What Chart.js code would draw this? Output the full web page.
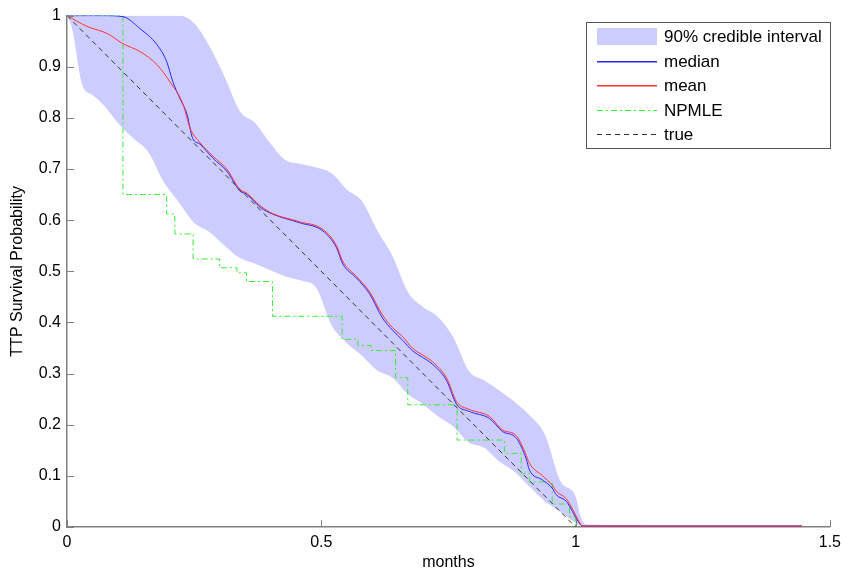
<!DOCTYPE html>
<html>
<head>
<meta charset="utf-8">
<script src="https://cdn.jsdelivr.net/npm/chart.js@4/dist/chart.umd.min.js"></script>
<style>
  html, body { margin: 0; padding: 0; background: #fff; }
  #wrap { width: 847px; height: 576px; }
</style>
</head>
<body>
<div id="wrap"><canvas id="survChart" width="847" height="576"></canvas></div>
<script>
// 90% credible band (upper / lower on a shared month grid)
const bandX = [0, 0.01, 0.03, 0.05, 0.07, 0.1, 0.13, 0.16, 0.19, 0.22, 0.25, 0.28, 0.31, 0.34, 0.37, 0.4, 0.43, 0.46, 0.49, 0.52, 0.55, 0.58, 0.61, 0.64, 0.67, 0.7, 0.73, 0.76, 0.79, 0.82, 0.85, 0.88, 0.91, 0.94, 0.97, 1.0, 1.01, 1.02, 1.13];
const bandUpper = [1, 1, 1, 1, 1, 1, 1, 1, 1, 1, 0.985, 0.94, 0.88, 0.813, 0.79, 0.75, 0.717, 0.71, 0.703, 0.692, 0.66, 0.637, 0.58, 0.53, 0.46, 0.43, 0.41, 0.37, 0.305, 0.287, 0.267, 0.245, 0.218, 0.18, 0.09, 0.06, 0.02, 0.005, 0.004];
const bandLower = [1, 0.975, 0.865, 0.845, 0.827, 0.79, 0.76, 0.733, 0.675, 0.635, 0.595, 0.577, 0.55, 0.526, 0.515, 0.502, 0.49, 0.482, 0.468, 0.395, 0.36, 0.335, 0.306, 0.292, 0.26, 0.24, 0.216, 0.196, 0.165, 0.155, 0.128, 0.108, 0.078, 0.05, 0.03, 0.008, 0.003, 0.002, 0.002];

const medianX = [0, 0.07, 0.11, 0.143, 0.177, 0.196, 0.208, 0.222, 0.236, 0.247, 0.261, 0.287, 0.314, 0.34, 0.353, 0.38, 0.404, 0.457, 0.503, 0.53, 0.542, 0.569, 0.595, 0.62, 0.64, 0.66, 0.679, 0.719, 0.746, 0.766, 0.791, 0.831, 0.856, 0.884, 0.903, 0.909, 0.935, 0.954, 0.962, 0.982, 0.994, 1.007, 1.013, 1.445];
const medianY = [1, 1, 0.998, 0.975, 0.943, 0.91, 0.871, 0.838, 0.807, 0.76, 0.749, 0.721, 0.696, 0.657, 0.651, 0.625, 0.612, 0.595, 0.579, 0.546, 0.515, 0.487, 0.456, 0.409, 0.385, 0.365, 0.345, 0.318, 0.287, 0.24, 0.226, 0.212, 0.187, 0.173, 0.133, 0.112, 0.092, 0.076, 0.063, 0.05, 0.03, 0.008, 0.002, 0.002];

const meanX = [0, 0.039, 0.079, 0.11, 0.143, 0.177, 0.202, 0.228, 0.242, 0.261, 0.287, 0.314, 0.34, 0.353, 0.38, 0.404, 0.457, 0.503, 0.53, 0.542, 0.569, 0.595, 0.62, 0.64, 0.66, 0.679, 0.719, 0.746, 0.766, 0.791, 0.831, 0.856, 0.884, 0.903, 0.909, 0.935, 0.954, 0.962, 0.982, 0.994, 1.007, 1.013, 1.445];
const meanY = [1, 0.979, 0.965, 0.945, 0.93, 0.904, 0.871, 0.827, 0.78, 0.752, 0.725, 0.7, 0.66, 0.653, 0.628, 0.613, 0.597, 0.582, 0.55, 0.52, 0.49, 0.46, 0.415, 0.39, 0.372, 0.35, 0.323, 0.292, 0.245, 0.23, 0.216, 0.19, 0.178, 0.14, 0.125, 0.1, 0.082, 0.07, 0.055, 0.035, 0.01, 0.002, 0.002];

// NPMLE step function: value drops to y at time x
const npmleX = [0, 0.11, 0.196, 0.212, 0.248, 0.3, 0.334, 0.353, 0.404, 0.541, 0.572, 0.598, 0.646, 0.67, 0.767, 0.86, 0.893, 0.909, 0.954, 0.988, 1.0];
const npmleY = [1, 0.65, 0.612, 0.573, 0.524, 0.507, 0.497, 0.48, 0.412, 0.367, 0.355, 0.345, 0.292, 0.239, 0.17, 0.144, 0.105, 0.088, 0.045, 0.02, 0];

const trueX = [0, 1];
const trueY = [1, 0];

const xTicks = [0, 0.5, 1, 1.5];
const yTicks = [0, 0.1, 0.2, 0.3, 0.4, 0.5, 0.6, 0.7, 0.8, 0.9, 1];

const pts = (xs, ys) => xs.map((x, i) => ({ x: x, y: ys[i] }));
const tickText = v => String(Math.round(v * 10) / 10);

const FONT = 'Liberation Sans, Arial, Helvetica, sans-serif';
const axisColor = '#808080';
const bandColor = 'rgb(204,204,255)';
const blue = 'rgb(40,40,255)';
const red = 'rgb(255,50,50)';
const green = 'rgb(50,240,50)';

const legendItems = [
  { label: '90% credible interval', kind: 'box', color: bandColor },
  { label: 'median', kind: 'solid', color: blue },
  { label: 'mean', kind: 'solid', color: red },
  { label: 'NPMLE', kind: 'dash', color: green, dash: [6, 3, 2, 3] },
  { label: 'true', kind: 'dash', color: '#333', dash: [5, 4] }
];

// inward tick marks like the original figure
const inwardTicks = {
  id: 'inwardTicks',
  afterDraw(chart) {
    const { ctx, chartArea, scales } = chart;
    ctx.save();
    ctx.strokeStyle = axisColor;
    ctx.lineWidth = 1;
    yTicks.forEach(v => {
      const py = Math.round(scales.y.getPixelForValue(v)) + 0.5;
      ctx.beginPath();
      ctx.moveTo(chartArea.left, py);
      ctx.lineTo(chartArea.left + 7, py);
      ctx.stroke();
    });
    xTicks.forEach(v => {
      const px = Math.round(scales.x.getPixelForValue(v)) + 0.5;
      ctx.beginPath();
      ctx.moveTo(px, chartArea.bottom);
      ctx.lineTo(px, chartArea.bottom - 7);
      ctx.stroke();
    });
    ctx.restore();
  }
};

const boxLegend = {
  id: 'boxLegend',
  afterDraw(chart) {
    const ctx = chart.ctx;
    const left = 586, top = 22, w = 244, h = 126;
    ctx.save();
    ctx.fillStyle = '#fff';
    ctx.fillRect(left, top, w, h);
    ctx.strokeStyle = '#555';
    ctx.lineWidth = 1;
    ctx.strokeRect(left + 0.5, top + 0.5, w, h);
    ctx.font = '17px ' + FONT;
    ctx.textBaseline = 'middle';
    legendItems.forEach((it, i) => {
      const cy = Math.round(top + 14 + i * 24.5);
      if (it.kind === 'box') {
        ctx.fillStyle = it.color;
        ctx.fillRect(597, cy - 8, 60, 17);
      } else if (it.kind === 'solid') {
        ctx.fillStyle = it.color;
        ctx.fillRect(597, cy, 60, 1.5);
      } else {
        ctx.strokeStyle = it.color;
        ctx.lineWidth = 1;
        ctx.setLineDash(it.dash);
        ctx.beginPath();
        ctx.moveTo(597, cy + 0.5);
        ctx.lineTo(657, cy + 0.5);
        ctx.stroke();
        ctx.setLineDash([]);
      }
      ctx.fillStyle = '#000';
      ctx.fillText(it.label, 664, cy + 1);
    });
    ctx.restore();
  }
};

const ctx = document.getElementById('survChart').getContext('2d');
new Chart(ctx, {
  type: 'line',
  data: {
    datasets: [
      {
        label: 'band upper',
        data: pts(bandX, bandUpper),
        borderWidth: 0,
        pointRadius: 0,
        backgroundColor: bandColor,
        cubicInterpolationMode: 'monotone',
        fill: '+1',
        order: 6
      },
      {
        label: 'band lower',
        data: pts(bandX, bandLower),
        borderWidth: 0,
        pointRadius: 0,
        cubicInterpolationMode: 'monotone',
        fill: false,
        order: 6
      },
      {
        label: 'NPMLE',
        data: pts(npmleX, npmleY),
        borderColor: green,
        borderWidth: 1,
        borderDash: [6, 3, 2, 3],
        stepped: true,
        pointRadius: 0,
        fill: false,
        order: 4
      },
      {
        label: 'true',
        data: pts(trueX, trueY),
        borderColor: '#333',
        borderWidth: 1,
        borderDash: [5, 4],
        pointRadius: 0,
        fill: false,
        order: 3
      },
      {
        label: 'median',
        data: pts(medianX, medianY),
        borderColor: blue,
        borderWidth: 1,
        pointRadius: 0,
        cubicInterpolationMode: 'monotone',
        fill: false,
        order: 2
      },
      {
        label: 'mean',
        data: pts(meanX, meanY),
        borderColor: red,
        borderWidth: 1,
        pointRadius: 0,
        cubicInterpolationMode: 'monotone',
        fill: false,
        order: 1
      }
    ]
  },
  options: {
    responsive: false,
    animation: false,
    layout: { padding: { top: 14, right: 16, left: 0, bottom: 0 } },
    plugins: {
      legend: { display: false },
      tooltip: { enabled: false }
    },
    scales: {
      x: {
        type: 'linear',
        min: 0,
        max: 1.5,
        afterFit: s => { s.height = 49; },
        afterBuildTicks: s => { s.ticks = xTicks.map(v => ({ value: v })); },
        grid: { display: false, drawTicks: false },
        border: { display: true, color: axisColor, width: 1.5 },
        ticks: { color: '#000', padding: 6, font: { family: FONT, size: 16 }, maxRotation: 0, callback: tickText },
        title: { display: true, text: 'months', color: '#000', font: { family: FONT, size: 16 }, padding: { top: 0, bottom: 4 } }
      },
      y: {
        type: 'linear',
        min: 0,
        max: 1,
        afterFit: s => { s.width = 67; },
        afterBuildTicks: s => { s.ticks = yTicks.map(v => ({ value: v })); },
        grid: { display: false, drawTicks: false },
        border: { display: true, color: axisColor, width: 1.5 },
        ticks: { color: '#000', padding: 6, font: { family: FONT, size: 16 }, callback: tickText },
        title: { display: true, text: 'TTP Survival Probability', color: '#000', font: { family: FONT, size: 16 }, padding: { top: 8, bottom: 0 } }
      }
    }
  },
  plugins: [inwardTicks, boxLegend]
});
</script>
</body>
</html>
